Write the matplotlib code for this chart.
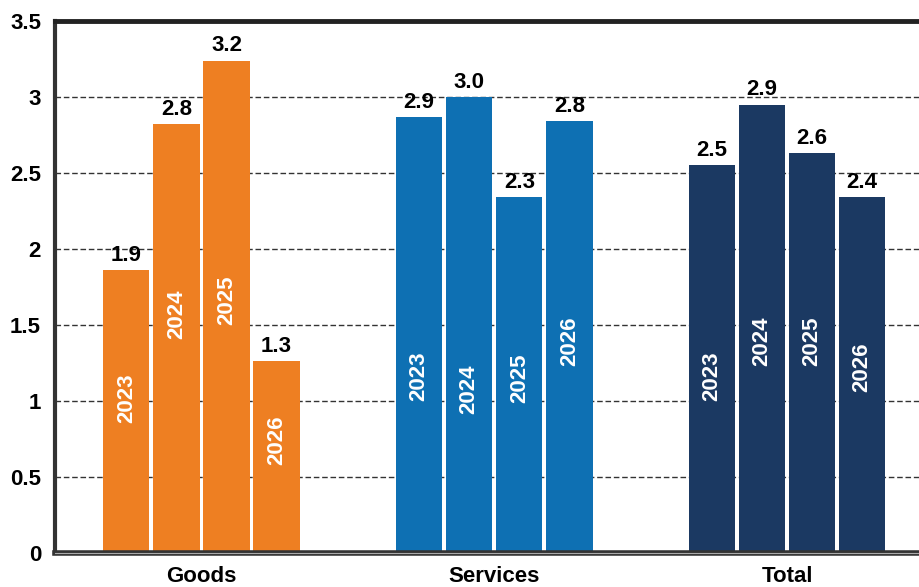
import matplotlib.pyplot as plt
import numpy as np
from matplotlib.lines import Line2D

plt.rcParams["font.family"] = ["Liberation Sans", "DejaVu Sans"]
plt.rcParams["font.weight"] = "bold"

categories = ["Goods", "Services", "Total"]
years = ["2023", "2024", "2025", "2026"]
goods = [1.86, 2.82, 3.24, 1.26]
services = [2.87, 3.00, 2.34, 2.84]
total = [2.55, 2.95, 2.63, 2.34]
goods_labels = ["1.9", "2.8", "3.2", "1.3"]
services_labels = ["2.9", "3.0", "2.3", "2.8"]
total_labels = ["2.5", "2.9", "2.6", "2.4"]
# height (data units) where the year text sits inside each bar
goods_year_y = [1.02, 1.57, 1.66, 0.74]
services_year_y = [1.16, 1.08, 1.15, 1.39]
total_year_y = [1.16, 1.39, 1.39, 1.22]

colors = ["#EE7F22", "#0E70B3", "#1B3962"]
series = [goods, services, total]
labels = [goods_labels, services_labels, total_labels]
year_y = [goods_year_y, services_year_y, total_year_y]

fig = plt.figure(figsize=(9.2, 5.87), dpi=100)
ax = fig.add_axes([55 / 920, 1 - 553 / 587, 1 - 55 / 920 + 0.002, (553 - 21) / 587])

step = 0.171
width = 0.158
for g, (vals, labs, ys, color) in enumerate(zip(series, labels, year_y, colors)):
    xs = g + (np.arange(len(vals)) - 1.5) * step
    bars = ax.bar(xs, vals, width=width, color=color, zorder=2)
    for bar, lab in zip(bars, labs):
        ax.annotate(lab, (bar.get_x() + bar.get_width() / 2, bar.get_height()),
                    xytext=(0, 3), textcoords="offset points",
                    ha="center", va="bottom", fontsize=16, fontweight="bold", color="black")
    for x, yr, y in zip(xs, years, ys):
        ax.text(x, y, yr, rotation=90, ha="center", va="center",
                fontsize=16, fontweight="bold", color="white", zorder=3)

ax.set_ylim(0, 3.5)
ax.set_xlim(-0.5, 2.46)
ax.set_yticks(np.arange(0, 3.51, 0.5))
ax.set_yticklabels(["0", "0.5", "1", "1.5", "2", "2.5", "3", "3.5"])
ax.set_xticks(range(len(categories)))
ax.set_xticklabels(categories)
ax.tick_params(axis="y", length=0, pad=10, labelsize=16)
ax.tick_params(axis="x", length=0, pad=9, labelsize=16)
for t in ax.get_xticklabels() + ax.get_yticklabels():
    t.set_fontweight("bold")

for y in np.arange(0.5, 3.01, 0.5):
    ax.axhline(y, color="#333333", lw=1, ls=(0, (4, 2)), zorder=1)

ax.spines["right"].set_visible(False)
ax.spines["top"].set_color("#222222")
ax.spines["top"].set_linewidth(3.5)
ax.spines["left"].set_color("#333333")
ax.spines["left"].set_linewidth(3)
ax.spines["bottom"].set_color("#333333")
ax.spines["bottom"].set_linewidth(4)
ax.add_line(Line2D([0, 1], [0, 0], transform=ax.transAxes, color="#aaaaaa",
                   lw=0.8, clip_on=False, zorder=5))

fig.savefig("out.png", dpi=100)
